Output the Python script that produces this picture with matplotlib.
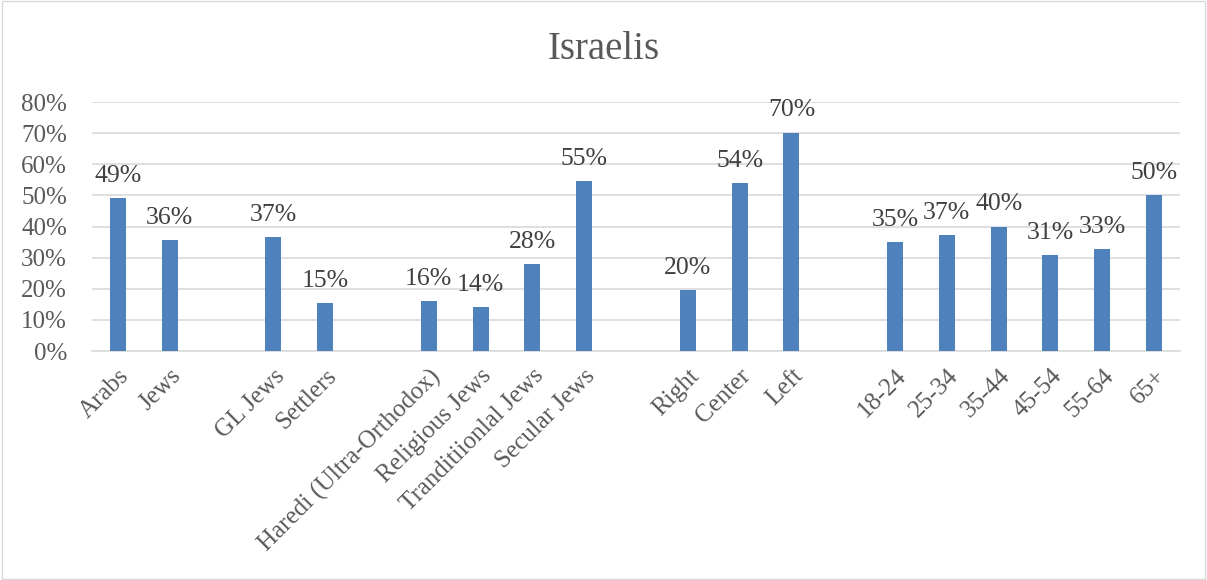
import numpy as np
import matplotlib
matplotlib.use("Agg")
import matplotlib.pyplot as plt
from matplotlib.patches import Rectangle

# slot labels ("" = empty gap between groups)
categories = [
    "Arabs", "Jews", "",
    "GL Jews", "Settlers", "",
    "Haredi (Ultra-Orthodox)", "Religious Jews", "Tranditiionlal Jews", "Secular Jews", "",
    "Right", "Center", "Left", "",
    "18-24", "25-34", "35-44", "45-54", "55-64", "65+",
]
values = [
    49.2, 35.6, np.nan,
    36.6, 15.4, np.nan,
    16.0, 14.0, 28.0, 54.6, np.nan,
    19.6, 54.0, 70.2, np.nan,
    35.0, 37.2, 40.0, 30.8, 32.7, 50.0,
]

plt.rcParams["font.family"] = ["Liberation Serif", "DejaVu Serif"]
text_color = "#595959"
bar_color = "#4F81BD"

fig = plt.figure(figsize=(12.07, 5.80), dpi=100)
ax = fig.add_axes([0.0762, 0.3948, 0.9014, 0.4293])

x = np.arange(len(categories))
vals = np.array(values, dtype=float)
mask = ~np.isnan(vals)
bars = ax.bar(x[mask], vals[mask], width=0.31, color=bar_color, zorder=3)
ax.bar_label(bars, labels=[f"{v:.0f}%" for v in vals[mask]], padding=8,
             fontsize=18.5, color="#404040")

ax.set_xlim(-0.5, len(categories) - 0.5)
ax.set_ylim(0, 80)
ax.set_yticks(np.arange(0, 81, 10))
ax.set_yticklabels([f"{t}%" for t in range(0, 81, 10)])
ax.yaxis.grid(True, color="#D9D9D9", linewidth=1.2, zorder=0)
ax.tick_params(axis="y", length=0, labelsize=18, labelcolor=text_color, pad=18)

ax.set_xticks(x[mask])
ax.set_xticklabels([c for c, m in zip(categories, mask) if m], rotation=45,
                   ha="right", rotation_mode="anchor")
ax.tick_params(axis="x", length=0, labelsize=18, labelcolor=text_color, pad=10)

for side in ["left", "right", "top"]:
    ax.spines[side].set_visible(False)
ax.spines["bottom"].set_color("#D9D9D9")
ax.spines["bottom"].set_linewidth(1.2)

fig.text(0.5, 0.915, "Israelis", ha="center", va="center", fontsize=28, color=text_color)

# chart border
fig.patches.append(Rectangle((0.002, 0.002), 0.996, 0.996, transform=fig.transFigure,
                             fill=False, edgecolor="#D9D9D9", linewidth=1))

fig.savefig("out.png", dpi=100)
